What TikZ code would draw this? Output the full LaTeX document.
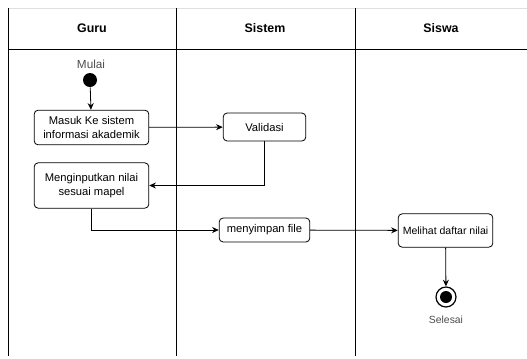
\documentclass[tikz,border=0pt]{standalone}
\usepackage{fontspec}
\setmainfont{Liberation Sans}
\usetikzlibrary{arrows.meta}

\tikzset{
  act/.style={draw,rounded corners=3pt,align=center,font=\fontsize{8.4}{10}\selectfont,inner sep=1pt},
  lane/.style={font=\bfseries\fontsize{9.3}{11}\selectfont},
}

\begin{document}
\begin{tikzpicture}[x=0.75pt,y=-0.75pt,>={Stealth[length=5pt,width=4.5pt]},line width=0.6pt]
\useasboundingbox (0,0) rectangle (527,358);

% lanes
\draw[gray!25] (8,8) -- (527,8);
\draw (8,49) -- (527,49);
\draw (8,8) -- (8,356);
\draw (176,8) -- (176,356);
\draw (355,8) -- (355,356);

\node[lane] (guru)   at (92,28)  {Guru};
\node[lane] (sistem) at (265,28) {Sistem};
\node[lane] (siswa)  at (441,28) {Siswa};

% activities
\node[font=\fontsize{8.8}{10}\selectfont,text=black!70] (mulai) at (91,64) {Mulai};
\node[circle,fill=black,minimum size=10.5pt,inner sep=0pt] (start) at (90,80) {};
\node[act,minimum width=86pt,minimum height=26pt] (masuk) at (91.5,127.5) {Masuk Ke sistem\\informasi akademik};
\node[act,minimum width=62pt,minimum height=21pt] (valid) at (264.5,127) {Validasi};
\node[act,minimum width=86pt,minimum height=34pt] (input) at (91.5,185.5) {Menginputkan nilai\\sesuai mapel};
\node[act,minimum width=68pt,minimum height=18pt] (simpan) at (264.5,230) {menyimpan file};
\node[act,minimum width=71pt,minimum height=25pt,font=\fontsize{7.9}{9}\selectfont] (lihat) at (445.5,230.5) {Melihat daftar nilai};
\node[circle,draw,line width=0.9pt,minimum size=15pt,inner sep=0pt] (end) at (446,297) {};
\node[circle,fill=black,minimum size=9pt,inner sep=0pt] at (end) {};
\node[font=\fontsize{7.8}{9}\selectfont,text=black!70] (selesai) at (446,320) {Selesai};

\draw[->] (start) -- (masuk);
\draw[->] (masuk) -- (valid);
\draw[->] (valid.south) |- (input.east);
\draw[->] (input.south) |- (simpan.west);
\draw[->] (simpan) -- (lihat);
\draw[->] (lihat) -- (end);
\end{tikzpicture}
\end{document}
